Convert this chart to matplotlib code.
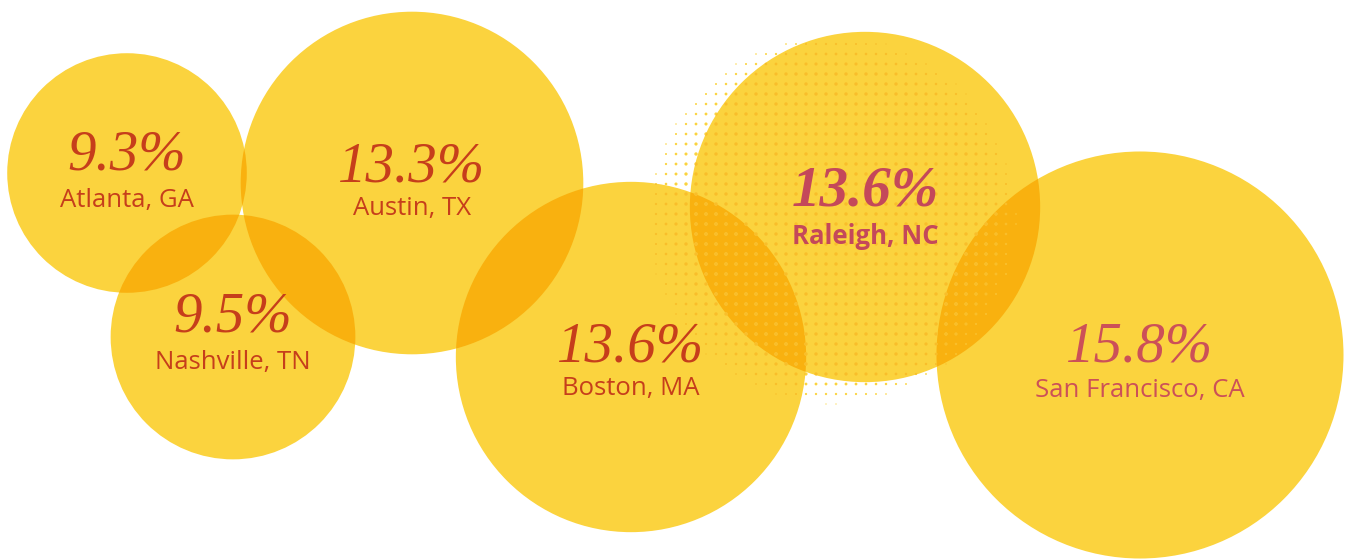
import numpy as np
import matplotlib.pyplot as plt
from matplotlib.patches import Circle

# data
cities = ["Atlanta, GA", "Austin, TX", "Nashville, TN", "Boston, MA", "Raleigh, NC", "San Francisco, CA"]
values = [9.3, 13.3, 9.5, 13.6, 13.6, 15.8]

# layout (pixels, y down)
centers = [(127, 173), (412, 183), (233, 337), (631, 357), (865, 207), (1140, 355)]
pct_y = [155, 167, 318, 347, 191, 347]
lab_y = [200, 209, 363, 389, 236, 390]
text_colors = ["#C63E1B", "#C63E1B", "#C63E1B", "#C63E1B", "#C4485A", "#CC5058"]
bold = [False, False, False, False, True, False]

YELLOW = "#FBD33E"
DARK = "#F9B10F"
px_per_pct = 12.88

W, H = 1345, 559
fig = plt.figure(figsize=(W / 100, H / 100), dpi=100)
ax = fig.add_axes([0, 0, 1, 1])
ax.set_xlim(0, W)
ax.set_ylim(H, 0)
ax.set_aspect("equal")
ax.axis("off")

circles = []
for (cx, cy), v in zip(centers, values):
    c = Circle((cx, cy), v * px_per_pct, facecolor=YELLOW, edgecolor="none", zorder=2)
    ax.add_patch(c)
    circles.append(c)

# overlaps (multiply look)
for i in range(len(circles)):
    for j in range(i + 1, len(circles)):
        (x1, y1), r1 = circles[i].center, circles[i].radius
        (x2, y2), r2 = circles[j].center, circles[j].radius
        if np.hypot(x1 - x2, y1 - y2) < r1 + r2:
            lens = Circle((x2, y2), r2, facecolor=DARK, edgecolor="none", zorder=3)
            ax.add_patch(lens)
            lens.set_clip_path(circles[i])

# halftone dots behind Raleigh
dcx, dcy, R = 832, 220, 186
gx, gy = np.meshgrid(np.arange(dcx - R, dcx + R + 1, 10), np.arange(dcy - R, dcy + R + 1, 10))
gx, gy = gx.ravel(), gy.ravel()
d = np.hypot(gx - dcx, gy - dcy)
f = np.clip((R - d) / 35, 0, 1)
keep = f > 0.05
gx, gy, f = gx[keep], gy[keep], f[keep]
sizes = 6 * f ** 0.7
ax.scatter(gx, gy, s=sizes, color=YELLOW, edgecolors="none", zorder=4)
for k in [3, 4, 5]:
    sc = ax.scatter(gx, gy, s=sizes, color="#F9BE2A", edgecolors="none", zorder=5)
    sc.set_clip_path(circles[k])

for i, name in enumerate(cities):
    cx = centers[i][0]
    ax.text(cx, pct_y[i], f"{values[i]}%", ha="center", va="center",
            family="Liberation Serif", style="italic",
            weight="bold" if bold[i] else "normal",
            fontsize=41, color=text_colors[i], zorder=6)
    ax.text(cx, lab_y[i], name, ha="center", va="center",
            family="Open Sans", weight="bold" if bold[i] else "normal",
            fontsize=18.5, color=text_colors[i], zorder=6)

fig.savefig("out.png", dpi=100)
